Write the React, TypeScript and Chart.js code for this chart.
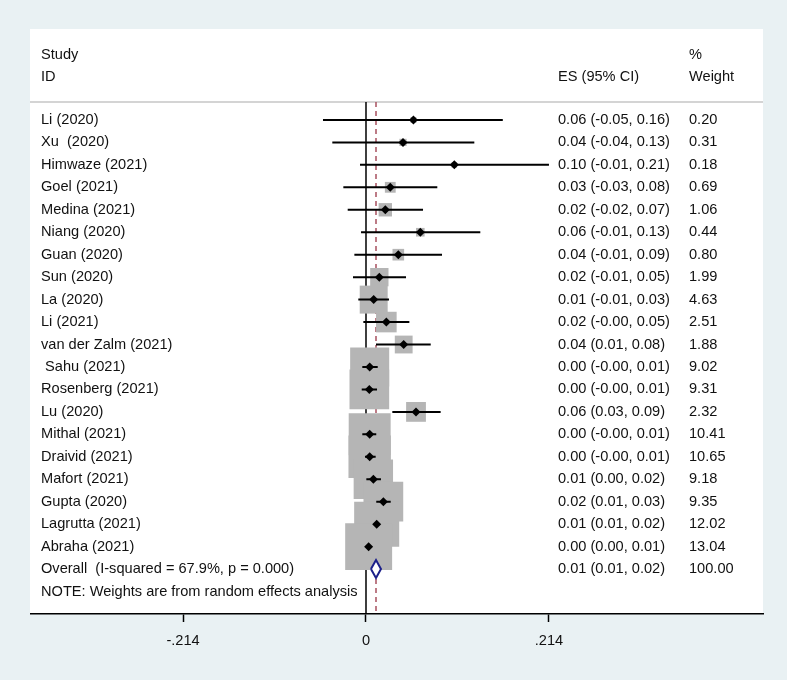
import React, { useEffect, useRef } from 'react';
import { Chart, registerables } from 'chart.js';

Chart.register(...registerables);

const studies = [
  'Li (2020)', 'Xu  (2020)', 'Himwaze (2021)', 'Goel (2021)', 'Medina (2021)',
  'Niang (2020)', 'Guan (2020)', 'Sun (2020)', 'La (2020)', 'Li (2021)',
  'van der Zalm (2021)', ' Sahu (2021)', 'Rosenberg (2021)', 'Lu (2020)', 'Mithal (2021)',
  'Draivid (2021)', 'Mafort (2021)', 'Gupta (2020)', 'Lagrutta (2021)', 'Abraha (2021)',
];
const effect = [0.0555, 0.0433, 0.1033, 0.0284, 0.0226, 0.0635, 0.0378, 0.0156, 0.009, 0.0238,
  0.0441, 0.0043, 0.0039, 0.0585, 0.0043, 0.0043, 0.0086, 0.0203, 0.0125, 0.0031];
const lower = [-0.0503, -0.0394, -0.007, -0.0265, -0.0214, -0.0058, -0.0136, -0.0152, -0.009, -0.0031,
  0.0117, -0.0043, -0.005, 0.0308, -0.0043, -0.0012, 0.0004, 0.012, 0.009, 0.0005];
const upper = [0.160, 0.1267, 0.214, 0.0834, 0.0667, 0.1337, 0.0889, 0.0468, 0.0269, 0.0507,
  0.0757, 0.0137, 0.0129, 0.0873, 0.012, 0.0113, 0.0175, 0.0289, 0.016, 0.006];
const weights = [0.20, 0.31, 0.18, 0.69, 1.06, 0.44, 0.80, 1.99, 4.63, 2.51,
  1.88, 9.02, 9.31, 2.32, 10.41, 10.65, 9.18, 9.35, 12.02, 13.04];
const esLabels = [
  '0.06 (-0.05, 0.16)', '0.04 (-0.04, 0.13)', '0.10 (-0.01, 0.21)', '0.03 (-0.03, 0.08)', '0.02 (-0.02, 0.07)',
  '0.06 (-0.01, 0.13)', '0.04 (-0.01, 0.09)', '0.02 (-0.01, 0.05)', '0.01 (-0.01, 0.03)', '0.02 (-0.00, 0.05)',
  '0.04 (0.01, 0.08)', '0.00 (-0.00, 0.01)', '0.00 (-0.00, 0.01)', '0.06 (0.03, 0.09)', '0.00 (-0.00, 0.01)',
  '0.00 (-0.00, 0.01)', '0.01 (0.00, 0.02)', '0.02 (0.01, 0.03)', '0.01 (0.01, 0.02)', '0.00 (0.00, 0.01)',
];
const weightLabels = ['0.20', '0.31', '0.18', '0.69', '1.06', '0.44', '0.80', '1.99', '4.63', '2.51',
  '1.88', '9.02', '9.31', '2.32', '10.41', '10.65', '9.18', '9.35', '12.02', '13.04'];

const overallLabel = 'Overall  (I-squared = 67.9%, p = 0.000)';
const overallES = 0.0117;
const overallLo = 0.0058;
const overallHi = 0.0175;
const overallESLabel = '0.01 (0.01, 0.02)';
const overallWeightLabel = '100.00';
const noteText = 'NOTE: Weights are from random effects analysis';

const headerStudy = ['Study', 'ID'];
const headerES = 'ES (95% CI)';
const headerWeight = ['%', 'Weight'];

const tickValues = [-0.214, 0, 0.214];
const tickLabels = ['-.214', '0', '.214'];

const FONT = '"Liberation Sans", Arial, Helvetica, sans-serif';
const FONT_SIZE = 14.6;
const BG = '#e9f1f3';

const forestPlugin = {
  id: 'forestText',
  beforeDraw(chart: any) {
    const { ctx, chartArea, width, height } = chart;
    const ys = chart.scales.y;
    ctx.save();
    ctx.fillStyle = BG;
    ctx.fillRect(0, 0, width, height);
    ctx.fillStyle = '#ffffff';
    ctx.fillRect(chartArea.left - 1, chartArea.top, chartArea.right - chartArea.left + 1, chartArea.bottom - chartArea.top);
    const sepY = ys.getPixelForValue(-0.8);
    ctx.strokeStyle = '#c6c6c6';
    ctx.lineWidth = 1.5;
    ctx.beginPath();
    ctx.moveTo(chartArea.left - 1, sepY);
    ctx.lineTo(chartArea.right, sepY);
    ctx.stroke();
    ctx.restore();
  },
  afterDraw(chart: any) {
    const { ctx, chartArea } = chart;
    const ys = chart.scales.y;
    const nameX = chartArea.left + 10;
    const esX = chartArea.left + 527;
    const wX = chartArea.left + 658;
    ctx.save();
    ctx.fillStyle = '#111';
    ctx.font = `${FONT_SIZE}px ${FONT}`;
    ctx.textAlign = 'left';
    ctx.textBaseline = 'middle';
    ctx.fillText(headerStudy[0], nameX, ys.getPixelForValue(-2.9));
    ctx.fillText(headerStudy[1], nameX, ys.getPixelForValue(-1.9));
    ctx.fillText(headerES, esX, ys.getPixelForValue(-1.9));
    ctx.fillText(headerWeight[0], wX, ys.getPixelForValue(-2.9));
    ctx.fillText(headerWeight[1], wX, ys.getPixelForValue(-1.9));
    studies.forEach((s, i) => {
      const y = ys.getPixelForValue(i);
      ctx.fillText(s, nameX, y);
      ctx.fillText(esLabels[i], esX, y);
      ctx.fillText(weightLabels[i], wX, y);
    });
    const oy = ys.getPixelForValue(studies.length);
    ctx.fillText(overallLabel, nameX, oy);
    ctx.fillText(overallESLabel, esX, oy);
    ctx.fillText(overallWeightLabel, wX, oy);
    ctx.fillText(noteText, nameX, ys.getPixelForValue(studies.length + 1));
    ctx.restore();
  },
};

export default function App() {
  const ref = useRef<HTMLCanvasElement | null>(null);

  useEffect(() => {
    if (!ref.current) return;
    const n = studies.length;
    const ciData: any[] = [];
    studies.forEach((_, i) => {
      ciData.push({ x: lower[i], y: i });
      ciData.push({ x: upper[i], y: i });
      ciData.push({ x: upper[i], y: null });
    });
    const chart = new Chart(ref.current, {
      type: 'scatter',
      data: {
        datasets: [
          {
            label: 'markers',
            data: effect.map((e, i) => ({ x: e, y: i })),
            pointStyle: 'rectRot',
            pointRadius: 4.5,
            backgroundColor: '#000',
            borderColor: '#000',
            borderWidth: 0,
            order: 1,
          },
          {
            label: 'overall',
            data: [
              { x: overallLo, y: n },
              { x: overallES, y: n - 0.4 },
              { x: overallHi, y: n },
              { x: overallES, y: n + 0.4 },
              { x: overallLo, y: n },
            ],
            showLine: true,
            pointRadius: 0,
            borderColor: '#1b1f8a',
            borderWidth: 2,
            backgroundColor: '#ffffff',
            fill: 'shape',
            order: 1,
          },
          {
            label: 'ci',
            data: ciData,
            showLine: true,
            spanGaps: false,
            pointRadius: 0,
            borderColor: '#000',
            borderWidth: 2,
            order: 2,
          },
          {
            label: 'boxes',
            data: effect.map((e, i) => ({ x: e, y: i })),
            pointStyle: 'rect',
            pointRadius: weights.map((w) => (Math.sqrt(w) * 13) / Math.SQRT2),
            backgroundColor: '#b5b5b5',
            borderWidth: 0,
            order: 3,
          },
          {
            label: 'overallLine',
            data: [
              { x: overallES, y: -0.8 },
              { x: overallES, y: n + 2 },
            ],
            showLine: true,
            pointRadius: 0,
            borderColor: '#a8505f',
            borderWidth: 1.5,
            borderDash: [5, 4],
            order: 4,
          },
          {
            label: 'zero',
            data: [
              { x: 0, y: -0.8 },
              { x: 0, y: n + 2 },
            ],
            showLine: true,
            pointRadius: 0,
            borderColor: '#000',
            borderWidth: 1.5,
            order: 5,
          },
        ],
      },
      options: {
        animation: false,
        responsive: false,
        events: [],
        layout: { autoPadding: false, padding: { top: 29, left: 31, right: 24, bottom: 0 } },
        plugins: { legend: { display: false }, tooltip: { enabled: false } },
        scales: {
          x: {
            type: 'linear',
            min: -0.39181,
            max: 0.46433,
            afterBuildTicks: (axis: any) => {
              axis.ticks = tickValues.map((v) => ({ value: v }));
            },
            afterFit: (scale: any) => {
              scale.height = 66;
              scale.paddingLeft = 0;
              scale.paddingRight = 0;
            },
            ticks: {
              color: '#111',
              font: { family: FONT, size: FONT_SIZE },
              padding: 10,
              maxRotation: 0,
              autoSkip: false,
              callback: (v: any) => {
                const idx = tickValues.findIndex((t) => Math.abs(t - Number(v)) < 1e-9);
                return idx >= 0 ? tickLabels[idx] : '';
              },
            },
            grid: {
              drawOnChartArea: false,
              drawTicks: true,
              tickLength: 8,
              tickColor: '#000',
              tickWidth: 1.5,
            },
            border: { display: true, color: '#000', width: 1.5 },
          },
          y: {
            type: 'linear',
            display: false,
            reverse: true,
            min: -4.05,
            max: 22,
          },
        },
      },
      plugins: [forestPlugin],
    });
    return () => chart.destroy();
  }, []);

  return (
    <div style={{ position: 'fixed', left: 0, top: 0, width: 787, height: 680, background: BG }}>
      <canvas ref={ref} width={787} height={680} style={{ display: 'block' }} />
    </div>
  );
}
